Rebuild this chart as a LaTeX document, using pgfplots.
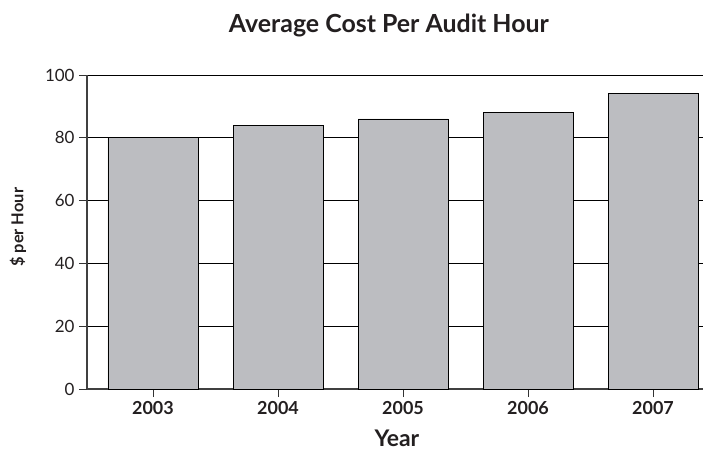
\documentclass[border=0pt]{standalone}
\usepackage{fontspec}
\setmainfont{Lato}
\usepackage{pgfplots}
\pgfplotsset{compat=1.18}
\definecolor{barfill}{RGB}{188,189,193}
\definecolor{txt}{RGB}{35,31,32}
\begin{document}
\begin{tikzpicture}[x=1bp,y=1bp]
\useasboundingbox (-87bp,-64bp) rectangle (618bp,389bp);
\begin{axis}[
  at={(0,0)}, anchor=south west,
  scale only axis,
  width=616bp, height=314bp,
  xmin=-0.528, xmax=4.4,
  ymin=0, ymax=100,
  ytick={0,20,40,60,80,100},
  xtick={0,1,2,3,4},
  xticklabels={2003,2004,2005,2006,2007},
  axis x line*=bottom,
  axis y line*=left,
  axis line style={-, line width=1.3pt, color=black!75},
  ymajorgrids,
  grid style={black, line width=0.8pt},
  tick style={black!80, line width=0.8pt},
  major tick length=8bp,
  tick align=outside,
  /pgf/number format/assume math mode=true,
  yticklabel style={font=\fontsize{17}{19}\selectfont, text=txt, xshift=-1bp},
  xticklabel style={font=\fontsize{18}{20}\selectfont\bfseries, text=txt, yshift=-1bp},
  title={Average Cost Per Audit Hour},
  title style={at={(axis description cs:0.490,1.140)}, anchor=center, font=\fontsize{25}{28}\selectfont\bfseries, text=txt},
  ylabel={\$ per Hour},
  ylabel style={at={(axis description cs:-0.112,0.515)}, anchor=center, font=\fontsize{16.5}{18}\selectfont\bfseries, text=txt},
  xlabel={Year},
  xlabel style={at={(axis description cs:0.503,-0.158)}, anchor=center, font=\fontsize{23}{26}\selectfont\bfseries, text=txt},
]
\addplot[ybar, bar width=0.72, fill=barfill, draw=black, line width=0.8pt] coordinates {
(0,80) (1,84) (2,86) (3,88) (4,94)
};
\end{axis}
\end{tikzpicture}
\end{document}
